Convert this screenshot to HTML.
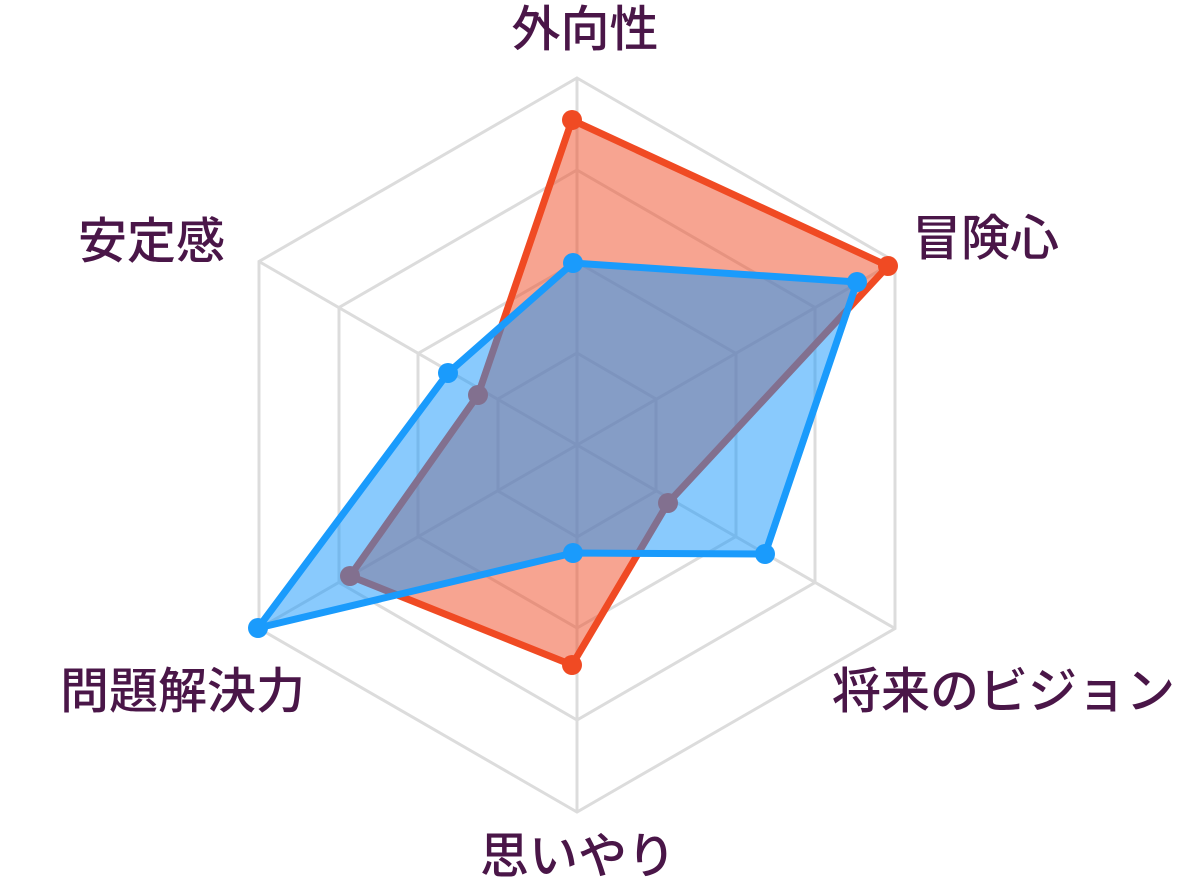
<!DOCTYPE html>
<html><head><meta charset="utf-8"><style>
html,body{margin:0;padding:0;background:#fff;}
svg{display:block;}
text{font-family:"Liberation Sans","Noto Sans CJK JP",sans-serif;font-size:49px;font-weight:500;fill:#4a1648;}
</style></head><body>
<svg width="1192" height="891" viewBox="0 0 1192 891">
<g fill="none" stroke="#dcdcdc" stroke-width="3">
<polygon points="577,78 895,261.5 895,628.5 577,812 259,628.5 259,261.5"/>
<polygon points="577,170 815,307.5 815,582.5 577,720 339,582.5 339,307.5"/>
<polygon points="577,262 736,353.5 736,536.5 577,628 418,536.5 418,353.5"/>
<polygon points="577,353 656,399 656,491 577,537 498,491 498,399"/>
<line x1="577" y1="78" x2="577" y2="812"/>
<line x1="895" y1="261.5" x2="259" y2="628.5"/>
<line x1="895" y1="628.5" x2="259" y2="261.5"/>
</g>
<polygon points="572,120 888,266 668,503 572,665 350,576 478,395" fill="rgba(240,74,35,0.5)" stroke="#f04a23" stroke-width="7" stroke-linejoin="round"/>
<g fill="#f04a23"><circle cx="572" cy="120" r="10"/><circle cx="888" cy="266" r="10"/><circle cx="668" cy="503" r="10"/><circle cx="572" cy="665" r="10"/><circle cx="350" cy="576" r="10"/><circle cx="478" cy="395" r="10"/></g>
<polygon points="573,263 857,282 765,554 573,553 258,628 448,373" fill="rgba(20,150,252,0.5)" stroke="#1a9bfc" stroke-width="7" stroke-linejoin="round"/>
<g fill="#1a9bfc"><circle cx="573" cy="263" r="10"/><circle cx="857" cy="282" r="10"/><circle cx="765" cy="554" r="10"/><circle cx="573" cy="553" r="10"/><circle cx="258" cy="628" r="10"/><circle cx="448" cy="373" r="10"/></g>
<text x="585" y="46" text-anchor="middle">外向性</text>
<text x="912" y="255">冒険心</text>
<text x="832" y="708">将来のビジョン</text>
<text x="578" y="873" text-anchor="middle">思いやり</text>
<text x="60" y="708">問題解決力</text>
<text x="78" y="258">安定感</text>
</svg>
</body></html>
